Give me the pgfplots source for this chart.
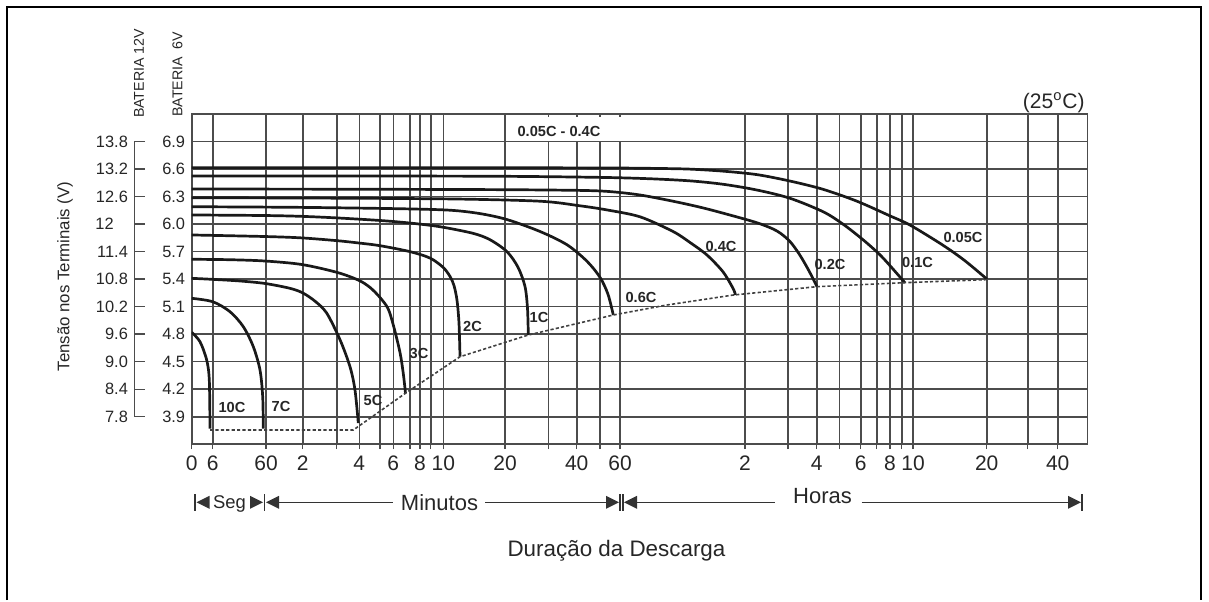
\documentclass[border=0pt]{standalone}
\usepackage{fontspec}
\setmainfont{Liberation Sans}
\usepackage{pgfplots}
\pgfplotsset{compat=1.18}
\begin{document}
\begin{tikzpicture}
\begin{scope}[x=0.5pt,y=-0.5pt]
\useasboundingbox (0,0) rectangle (1209,590);
\end{scope}
\begin{axis}[
  at={(95.85pt,-222.1pt)}, anchor=south west,
  scale only axis, width=447.9pt, height=165.05pt,
  xmin=191.7, xmax=1087.5, ymin=3.6, ymax=7.2,
  axis line style={black!70, line width=0.8pt},
  grid=major, major grid style={black!70, line width=0.8pt},
  xtick={191.7,212.7,266,302.7,336.7,359.3,380,393.3,410,420,430.7,443.3,505,548.3,576.7,600,620,745,788,816.7,839.3,860.7,876.7,890,901.7,913,986.7,1027.7,1057.7},
  xticklabels={0,6,60,2,{},4,{},6,{},8,{},10,20,{},40,{},60,2,{},4,{},6,{},8,{},10,20,{},40},
  ytick={3.9,4.2,4.5,4.8,5.1,5.4,5.7,6.0,6.3,6.6,6.9},
  yticklabels={},
  xtick pos=bottom, ytick pos=left,
  ytick style={draw=none},
  xtick style={black!70, line width=0.7pt},
  tick align=outside, major tick length=2.5pt,
  xticklabel style={font=\fontsize{10.5}{12}\selectfont, text=black!85},
]
\addplot[black!90, line width=1.35pt, smooth, tension=0.5] coordinates {(191.7,6.615) (300,6.615) (450,6.615) (560,6.614) (620,6.612) (660,6.607) (690,6.600) (723,6.578) (757,6.540) (790,6.470) (823,6.380) (857,6.250) (890,6.090) (910,5.990) (943,5.770) (965,5.600) (987,5.400)};
\addplot[black!90, line width=1.35pt, smooth, tension=0.5] coordinates {(191.7,6.525) (350,6.525) (500,6.522) (600,6.510) (650,6.495) (690,6.472) (723,6.435) (757,6.372) (790,6.282) (823,6.136) (843,6.000) (863,5.830) (880,5.665) (893,5.51) (905,5.36)};
\addplot[black!90, line width=1.35pt, smooth, tension=0.5] coordinates {(191.7,6.383) (350,6.381) (500,6.376) (580,6.368) (610,6.355) (640,6.318) (673,6.25) (700,6.185) (723,6.12) (757,6.015) (777,5.925) (790,5.81) (800,5.66) (809,5.49) (817,5.318)};
\addplot[black!90, line width=1.35pt, smooth, tension=0.5] coordinates {(191.7,6.288) (300,6.285) (450,6.275) (540,6.25) (580,6.20) (607,6.155) (640,6.08) (673,5.92) (690,5.80) (707,5.663) (723,5.48) (733,5.30) (735.5,5.227)};
\addplot[black!90, line width=1.35pt, smooth, tension=0.5] coordinates {(191.7,6.19) (300,6.183) (400,6.168) (450,6.152) (480,6.115) (507,6.05) (540,5.92) (567,5.775) (587,5.595) (600,5.42) (608,5.235) (613.3,5.009)};
\addplot[black!90, line width=1.35pt, smooth, tension=0.5] coordinates {(191.7,6.10) (265,6.094) (301.7,6.085) (336.7,6.068) (380,6.04) (410,6.012) (440,5.972) (473,5.90) (490,5.83) (507,5.70) (518,5.53) (525,5.32) (527.5,5.08) (528.3,4.791)};
\addplot[black!90, line width=1.35pt, smooth, tension=0.5] coordinates {(191.7,5.882) (265,5.865) (301.7,5.85) (336.7,5.82) (358.3,5.795) (380,5.765) (410,5.70) (430,5.63) (443,5.53) (450,5.43) (454,5.33) (457,5.17) (459,4.92) (460,4.554)};
\addplot[black!90, line width=1.35pt, smooth, tension=0.5] coordinates {(191.7,5.617) (230,5.612) (265,5.598) (301.7,5.56) (336.7,5.475) (358.3,5.39) (370,5.31) (380,5.20) (388,5.08) (393.3,4.90) (400,4.60) (403.3,4.37) (405.5,4.155)};
\addplot[black!90, line width=1.35pt, smooth, tension=0.5] coordinates {(191.7,5.409) (212.7,5.398) (240,5.38) (265,5.353) (290,5.30) (302.7,5.25) (315,5.16) (326.7,5.03) (340,4.74) (350,4.445) (355,4.19) (358.3,3.83)};
\addplot[black!90, line width=1.35pt, smooth, tension=0.5] coordinates {(191.7,5.191) (212.7,5.154) (230,5.045) (243.3,4.882) (253.3,4.664) (260,4.409) (262.7,4.118) (263.3,3.77)};
\addplot[black!90, line width=1.35pt, smooth, tension=0.5] coordinates {(191.7,4.82) (200,4.718) (206.7,4.518) (209.3,4.30) (210,3.77)};
\addplot[black!75, line width=0.8pt, dash pattern=on 1.6pt off 1.1pt] coordinates {(210,3.755) (353.3,3.755) (406,4.16) (460,4.554) (528.3,4.791) (613.3,5.009) (666.7,5.118) (733.3,5.227) (816.7,5.318) (903.3,5.361) (987,5.395)};
\end{axis}
\begin{scope}[x=0.5pt,y=-0.5pt]
% outer frame
\draw[black, line width=1pt] (6.5,600) -- (6.5,6.5) -- (1201,6.5) -- (1201,600);
% white box for header label
\fill[white] (507,116.5) rectangle (623,140.5);
\node[font=\bfseries\fontsize{7.3}{8}\selectfont, text=black!85] at (559,131) {0.05C - 0.4C};
\begin{scope}[font=\bfseries\fontsize{7.3}{8}\selectfont, text=black!85]
\node at (232,407) {10C};
\node at (281,406) {7C};
\node at (373,400) {5C};
\node at (419,353) {3C};
\node at (472.5,326) {2C};
\node at (539,317.5) {1C};
\node at (641,297.5) {0.6C};
\node at (721,246) {0.4C};
\node at (830,264) {0.2C};
\node at (917.5,262.5) {0.1C};
\node at (963,237) {0.05C};
\end{scope}
% 12V scale
\draw[black!70, line width=0.7pt] (145,141.61) -- (134.5,141.61) -- (134.5,416.71) -- (145,416.71);
\foreach \yy in {169.12,196.63,224.14,251.65,279.16,306.67,334.18,361.69,389.2}
  \draw[black!70, line width=0.7pt] (134.5,\yy) -- (145,\yy);
\begin{scope}[font=\fontsize{8.2}{9}\selectfont, text=black!85]
\foreach \yy/\l in {141.61/13.8,169.12/13.2,196.63/12.6,251.65/11.4,279.16/10.8,306.67/10.2,334.18/9.6,361.69/9.0,389.2/8.4,416.71/7.8}
  \node[anchor=east, inner sep=0pt] at (128.3,\yy) {\l};
\node[anchor=west, inner sep=0pt] at (95,224.14) {12};
\foreach \yy/\l in {141.61/6.9,169.12/6.6,196.63/6.3,224.14/6.0,251.65/5.7,279.16/5.4,306.67/5.1,334.18/4.8,361.69/4.5,389.2/4.2,416.71/3.9}
  \node[anchor=east, inner sep=0pt] at (185.5,\yy) {\l};
\end{scope}
\node[rotate=90, anchor=west, inner sep=0pt, font=\fontsize{7.1}{8}\selectfont, text=black!85] at (139,118.3) {BATERIA 12V};
\node[rotate=90, anchor=west, inner sep=0pt, font=\fontsize{7.1}{8}\selectfont, text=black!85] at (177.5,117) {BATERIA\ \ 6V};
\node[rotate=90, font=\fontsize{8.4}{9}\selectfont, text=black!85] at (65,276.5) {Tensão nos Terminais (V)};
\node[anchor=base east, inner sep=0pt, font=\fontsize{10.5}{12}\selectfont, text=black!85] at (1085,108.3) {(25\textsuperscript{o}C)};
% duration bands
\begin{scope}[black!80, line width=0.6pt]
\draw (195,494) -- (195,511);
\fill (196.5,502.3) -- (209.5,495.8) -- (209.5,508.8) -- cycle;
\fill (263,502.3) -- (250,495.8) -- (250,508.8) -- cycle;
\draw (264.5,494) -- (264.5,511);
\fill (266,502.3) -- (279,495.8) -- (279,508.8) -- cycle;
\draw (279,502.3) -- (393,502.3);
\draw (485,502.3) -- (606.5,502.3);
\fill (619,502.3) -- (606,495.8) -- (606,508.8) -- cycle;
\draw (620,494) -- (620,511);
\draw (623,494) -- (623,511);
\fill (624,502.3) -- (637,495.8) -- (637,508.8) -- cycle;
\draw (637,502.3) -- (775,502.3);
\draw (861.7,502.3) -- (1068,502.3);
\fill (1081,502.3) -- (1068,495.8) -- (1068,508.8) -- cycle;
\draw (1082,494) -- (1082,511);
\end{scope}
\node[anchor=base, inner sep=0pt, font=\fontsize{9.2}{10}\selectfont, text=black!85] at (229.5,508) {Seg};
\node[anchor=base, inner sep=0pt, font=\fontsize{11}{12}\selectfont, text=black!85] at (439.5,510) {Minutos};
\node[anchor=base, inner sep=0pt, font=\fontsize{11}{12}\selectfont, text=black!85] at (822.5,503.3) {Horas};
\node[anchor=base, inner sep=0pt, font=\fontsize{11.2}{12}\selectfont, text=black!85] at (616.5,556.7) {Duração da Descarga};
\end{scope}
\end{tikzpicture}
\end{document}
